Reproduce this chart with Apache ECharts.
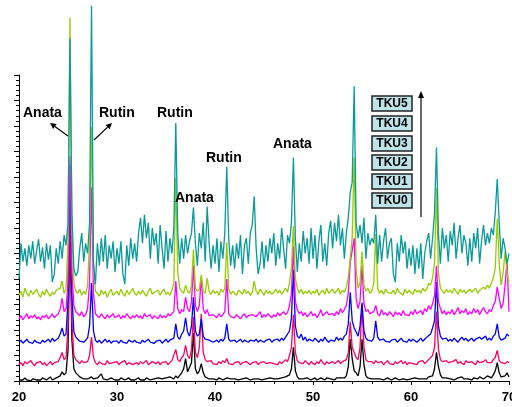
<!DOCTYPE html>
<html><head><meta charset="utf-8">
<script src="https://cdn.jsdelivr.net/npm/echarts@6/dist/echarts.min.js"></script>
<style>html,body{margin:0;padding:0;background:#fff;overflow:hidden;width:100%;height:100%}#c{width:100vw;height:100vh}</style>
</head><body><div id="c"></div>
<script>
// 2-theta sampling: 20.0 .. 70.0 in 0.2 degree steps (251 samples)
const twoThetaStart = 20;
const twoThetaStep = 0.2;
const seriesNames = ['TKU0','TKU1','TKU2','TKU3','TKU4','TKU5'];
const seriesColors = ['#000000','#FF0066','#0000FF','#FF00FF','#99CC00','#0A9A9A'];
// vertical stacking offsets (a.u.)
const offsets = [0, 13, 34, 56, 76, 125];
const xTicks = [20,30,40,50,60,70];

// intensities above each pattern's offset (a.u.), one line = 2 degrees
const tku0 = [
1,2,1,3,1,2,0,2,3,1,
2,1,3,2,1,2,4,1,2,3,
3,5,9,6,8,30,147,40,12,8,
6,4,3,2,3,2,3,4,2,3,
3,5,7,2,3,1,2,3,2,1,
2,1,3,2,1,2,3,1,2,1,
2,3,1,2,1,3,2,1,2,2,
1,3,2,2,1,3,2,4,3,2,
5,3,4,8,12,22,9,8,18,47,
12,7,10,17,8,4,3,2,3,2,
2,1,3,2,1,2,3,2,2,1,
2,3,1,2,2,1,3,2,1,2,
2,1,2,3,1,2,2,1,3,2,
2,3,2,1,3,2,4,3,6,12,
33,10,4,2,3,2,1,3,2,1,
2,3,1,2,3,2,1,3,2,2,
2,1,3,2,3,4,3,5,14,41,
22,10,8,5,14,41,16,5,3,2,
2,3,2,1,2,3,1,2,3,2,
1,2,3,2,1,2,2,3,1,2,
2,1,3,2,2,1,2,3,2,4,
3,5,12,28,14,6,3,2,3,2,
2,3,1,2,3,2,4,2,1,2,
2,1,3,2,2,4,3,2,3,5,
4,3,6,10,18,8,4,3,5,8,
4];
const tku1 = [
3,5,2,6,4,3,7,4,2,5,
4,6,3,5,2,4,6,3,5,4,
6,10,15,8,10,40,165,45,12,8,
6,4,7,5,4,6,12,30,10,5,
3,6,4,5,3,7,4,3,5,4,
6,3,5,4,7,3,5,6,3,4,
5,3,6,4,5,7,3,4,6,5,
4,6,3,5,4,6,3,5,7,6,
18,8,6,10,12,22,12,9,18,50,
15,10,20,53,15,8,6,5,7,4,
5,3,6,4,7,5,9,4,5,3,
5,4,6,3,5,4,6,5,3,5,
4,6,3,5,4,6,4,3,5,6,
4,5,3,6,4,5,8,6,12,20,
52,15,7,5,6,4,7,5,3,6,
5,3,6,4,8,5,3,6,4,5,
6,4,5,7,4,6,5,8,15,45,
20,15,10,8,20,62,20,8,6,5,
6,4,7,5,4,6,3,5,7,4,
5,3,6,4,5,7,4,6,3,5,
6,4,5,3,6,5,7,4,6,8,
8,12,20,55,18,8,6,5,7,5,
4,6,5,8,4,6,5,3,7,5,
4,6,5,3,7,5,4,6,8,5,
6,5,8,10,17,7,5,6,4,6,
5];
const tku2 = [
4,6,3,5,7,4,5,3,6,4,
5,3,6,4,5,7,4,8,5,6,
8,12,18,10,12,45,178,50,14,9,
7,5,6,4,6,8,20,62,15,6,
4,6,3,5,7,4,6,3,5,4,
5,3,6,4,5,3,6,5,4,6,
4,5,3,6,4,5,7,4,5,3,
5,4,6,3,5,7,4,6,5,8,
22,9,7,12,15,28,14,10,20,48,
15,10,12,27,10,7,8,6,5,4,
5,6,4,7,5,8,22,7,5,4,
6,4,5,7,4,6,5,4,6,5,
5,7,4,6,5,4,6,5,7,4,
6,5,7,5,8,6,9,8,15,28,
75,20,10,8,12,6,9,5,7,6,
5,8,6,4,7,5,9,6,4,6,
7,5,9,6,8,6,10,12,22,53,
25,18,14,10,20,43,15,8,6,7,
5,8,25,9,6,5,7,5,6,4,
6,5,7,4,6,8,5,6,4,7,
5,7,6,4,6,8,5,7,9,10,
12,18,25,63,20,10,7,6,8,5,
7,5,8,6,4,7,9,6,8,5,
6,8,5,7,6,9,7,8,10,6,
8,6,10,12,22,9,6,5,8,12,
10];
const tku3 = [
5,8,4,7,10,5,8,6,9,5,
7,4,8,6,9,5,7,10,6,8,
10,14,25,12,15,40,164,50,18,12,
10,8,12,7,9,15,40,134,30,10,
8,6,10,7,5,9,6,8,10,6,
7,9,5,8,6,10,7,5,8,6,
9,6,8,5,10,7,6,9,5,8,
7,5,9,6,8,6,10,8,7,12,
42,15,10,14,12,26,15,12,22,57,
18,12,18,46,15,10,14,8,7,9,
8,6,10,7,9,12,44,10,7,8,
6,9,7,5,8,10,6,8,7,9,
10,7,8,12,6,9,7,10,8,6,
9,7,11,8,10,12,9,11,18,30,
76,22,14,10,12,8,11,7,9,12,
8,10,6,9,14,8,7,12,9,8,
10,8,12,9,15,11,14,18,30,60,
60,84,25,15,22,57,20,12,14,10,
9,12,18,10,8,14,9,11,8,12,
10,7,12,9,11,8,13,9,10,8,
12,9,14,10,11,13,9,15,12,18,
14,20,28,57,22,15,10,13,9,12,
10,14,9,12,16,10,13,11,15,9,
12,10,15,11,14,9,13,16,12,10,
14,12,18,22,36,25,15,20,38,61,
12];
const tku4 = [
8,12,6,15,10,7,13,9,11,14,
9,6,12,8,14,10,7,11,9,13,
12,15,22,10,14,60,280,70,20,12,
10,14,8,12,9,18,60,173,40,12,
10,7,13,9,12,6,11,14,8,10,
12,8,14,10,7,13,9,11,15,10,
8,12,9,13,10,7,12,15,9,11,
10,13,8,12,14,9,11,8,13,20,
123,30,15,12,10,18,12,10,18,53,
15,12,14,28,12,10,25,12,9,13,
10,12,8,14,11,15,60,14,9,12,
10,8,13,11,9,14,10,12,8,11,
22,12,9,14,11,8,13,10,12,9,
11,14,10,13,9,12,15,11,20,35,
76,25,15,10,14,9,12,10,13,9,
12,10,14,8,11,13,9,15,10,12,
14,10,12,15,9,13,11,16,25,45,
65,143,35,15,20,51,18,12,15,10,
12,20,68,15,10,13,9,14,11,12,
10,13,9,15,11,12,8,14,10,13,
12,9,14,11,13,10,15,12,14,20,
18,25,40,113,30,15,12,10,14,11,
13,10,15,12,9,14,11,13,10,12,
14,11,12,15,10,13,12,16,14,18,
15,20,25,35,83,40,18,30,51,30,
20];
const tku5 = [
-25,10,-8,5,-12,8,-5,12,-10,3,
14,-8,6,-15,10,-6,8,-28,-20,5,
-10,12,-5,18,8,30,211,40,-15,-22,
-18,5,20,-8,10,0,30,243,-10,-30,
10,-12,15,-8,18,-15,8,-5,12,-18,
5,-10,12,-20,-30,8,-12,15,-5,10,
-8,20,35,10,38,15,30,-5,25,8,
20,-10,28,5,-15,22,-8,15,0,25,
128,20,-10,15,-5,18,0,12,20,45,
10,-12,20,5,30,-8,46,10,-15,8,
-10,15,-18,12,-5,20,85,15,-12,8,
-15,10,-5,18,-20,8,15,-10,20,28,
56,5,-20,-10,12,-15,8,-8,15,0,
20,-12,10,-5,25,5,-15,18,10,30,
94,15,-18,10,-8,22,0,15,-10,25,
-5,18,-15,12,28,-8,10,-12,20,32,
5,30,12,38,8,25,-5,20,35,60,
70,164,30,15,28,10,35,-5,20,8,
15,10,38,-10,18,-8,12,25,-5,10,
15,-20,-28,10,-8,18,0,12,-15,5,
-12,8,-20,5,-15,10,-25,0,12,20,
-5,15,40,104,20,-10,25,5,18,-8,
22,8,30,-5,15,28,0,18,10,-12,
15,-8,20,5,25,-10,12,28,8,20,
10,25,18,40,73,30,-5,15,5,-10,
0];
const patterns = [tku0, tku1, tku2, tku3, tku4, tku5];

const FONT = '"Liberation Sans", Arial, sans-serif';
const chart = echarts.init(document.getElementById('c'), null, {renderer:'canvas'});

const series = patterns.map((arr, k) => ({
  name: seriesNames[k],
  type: 'line',
  showSymbol: false,
  clip: false,
  animation: false,
  lineStyle: {color: seriesColors[k], width: 1.3},
  itemStyle: {color: seriesColors[k]},
  data: arr.map((h, i) => [+(twoThetaStart + twoThetaStep * i).toFixed(1), offsets[k] + h])
}));

function arrow(x1, y1, x2, y2, head) {
  const dx = x2 - x1, dy = y2 - y1, L = Math.hypot(dx, dy);
  const ux = dx / L, uy = dy / L, px = -uy, py = ux;
  const bx = x2 - ux * head, by = y2 - uy * head;
  return [
    {type:'line', shape:{x1:x1, y1:y1, x2:bx, y2:by}, style:{stroke:'#000', lineWidth:1.2}, z:100},
    {type:'polygon', shape:{points:[[x2,y2],[bx+px*3,by+py*3],[bx-px*3,by-py*3]]}, style:{fill:'#000'}, z:100}
  ];
}

const annotations = [
  {t:'Anata', x:23, y:113}, {t:'Rutin', x:99, y:113}, {t:'Rutin', x:157, y:113},
  {t:'Anata', x:175, y:198}, {t:'Rutin', x:206, y:158}, {t:'Anata', x:273, y:144}
];
const boxYs = [96,116,136,155,174,193];
const graphics = [];
annotations.forEach(a => graphics.push({type:'text', x:a.x, y:a.y, z:100,
  style:{text:a.t, font:'bold 14px ' + FONT, fill:'#000', textVerticalAlign:'middle', verticalAlign:'middle'}}));
graphics.push(...arrow(68,136,50,123,6));
graphics.push(...arrow(94,140,112,123,6));
graphics.push(...arrow(421,217,421,91,7));
boxYs.forEach((y, k) => {
  graphics.push({type:'rect', shape:{x:372, y:y, width:40, height:15}, z:100,
    style:{fill:'#BEE3E8', stroke:'#222', lineWidth:1.5}});
  graphics.push({type:'text', x:392, y:y+8, z:101,
    style:{text:seriesNames[5-k], font:'bold 12px ' + FONT, fill:'#000', textAlign:'center', align:'center', textVerticalAlign:'middle', verticalAlign:'middle'}});
});

chart.setOption({
  animation: false,
  backgroundColor: '#fff',
  grid: {left:19, right:3, top:75, bottom:26, containLabel:false, outerBoundsMode:'none'},
  xAxis: {
    type:'value', min:20, max:70, interval:10,
    name:'2-Theta - Scale', nameLocation:'middle', nameGap:22,
    nameTextStyle:{fontFamily:FONT, fontWeight:'bold', fontSize:12, color:'#000'},
    axisLine:{show:true, onZero:false, lineStyle:{color:'#000', width:1}},
    axisTick:{show:true, length:4, lineStyle:{color:'#000'}},
    minorTick:{show:true, splitNumber:5, length:3, lineStyle:{color:'#000'}},
    splitLine:{show:false},
    axisLabel:{fontFamily:FONT, fontWeight:'bold', fontSize:13, color:'#000', margin:10,
      formatter: v => xTicks.includes(v) ? String(v) : ''}
  },
  yAxis: {
    type:'value', min:0, max:300, interval:25,
    axisLine:{show:true, lineStyle:{color:'#000', width:1}},
    axisTick:{show:true, length:5, lineStyle:{color:'#000'}},
    minorTick:{show:true, splitNumber:5, length:3, lineStyle:{color:'#000'}},
    splitLine:{show:false},
    axisLabel:{show:false}
  },
  series: series,
  graphic: graphics
});
window.addEventListener('resize', () => chart.resize());
</script>
</body></html>
